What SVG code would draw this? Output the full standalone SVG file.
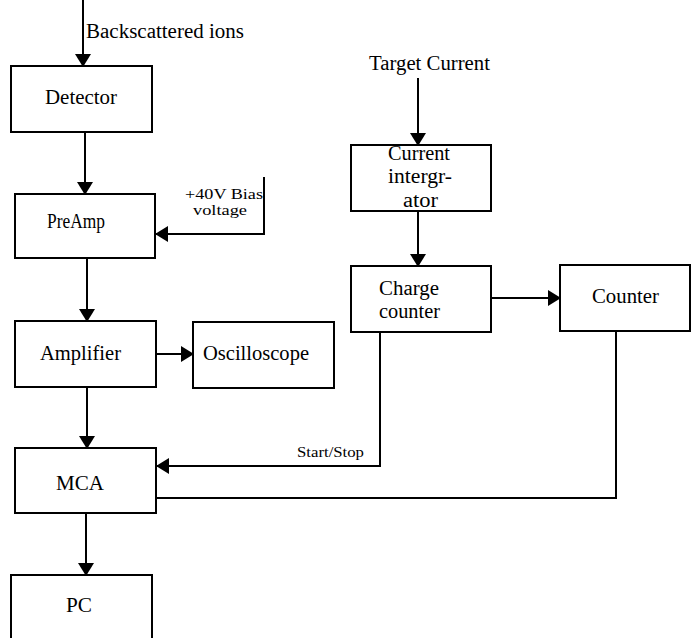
<svg xmlns="http://www.w3.org/2000/svg" width="691" height="638" viewBox="0 0 691 638">
<style>
.box{fill:#fff;stroke:#000;stroke-width:2}
.ln{fill:none;stroke:#000;stroke-width:2}
.t{font-family:"Liberation Serif",serif;font-size:20px;fill:#000}
.sm{font-size:14px}
</style>
<defs>
<marker id="ah" markerWidth="13" markerHeight="16" refX="12" refY="8" orient="auto" markerUnits="userSpaceOnUse">
<path d="M0,0 L13,8 L0,16 Z" fill="#000"/>
</marker>
</defs>
<rect width="691" height="638" fill="#fff"/>
<g id="connectors">
<path class="ln" d="M83,0 V66" marker-end="url(#ah)"/>
<path class="ln" d="M85,132 V194" marker-end="url(#ah)"/>
<path class="ln" d="M264,177 V234 H156" marker-end="url(#ah)"/>
<path class="ln" d="M87,258 V321" marker-end="url(#ah)"/>
<path class="ln" d="M156,354 H193" marker-end="url(#ah)"/>
<path class="ln" d="M87,387 V448" marker-end="url(#ah)"/>
<path class="ln" d="M380,332 V466 H157" marker-end="url(#ah)"/>
<path class="ln" d="M156,498 H616 V331"/>
<path class="ln" d="M86,513 V575" marker-end="url(#ah)"/>
<path class="ln" d="M418,78 V145" marker-end="url(#ah)"/>
<path class="ln" d="M418,211 V266" marker-end="url(#ah)"/>
<path class="ln" d="M491,298 H560" marker-end="url(#ah)"/>
<text class="t" x="86" y="38" textLength="158" lengthAdjust="spacingAndGlyphs">Backscattered ions</text>
<text class="t sm" x="185" y="199" textLength="78" lengthAdjust="spacingAndGlyphs">+40V Bias</text>
<text class="t sm" x="193" y="215" textLength="54" lengthAdjust="spacingAndGlyphs">voltage</text>
<text class="t sm" x="297" y="457" textLength="67" lengthAdjust="spacingAndGlyphs">Start/Stop</text>
<text class="t" x="369" y="70" textLength="121" lengthAdjust="spacingAndGlyphs">Target Current</text>
</g>
<g id="detector"><rect class="box" x="11" y="66" width="141" height="66"/><text class="t" x="45" y="104" textLength="72" lengthAdjust="spacingAndGlyphs">Detector</text></g>
<g id="preamp"><rect class="box" x="15" y="194" width="140" height="64"/><text class="t" x="47" y="228" textLength="58" lengthAdjust="spacingAndGlyphs">PreAmp</text></g>
<g id="amplifier"><rect class="box" x="15" y="321" width="141" height="66"/><text class="t" x="40" y="360" textLength="81" lengthAdjust="spacingAndGlyphs">Amplifier</text></g>
<g id="oscilloscope"><rect class="box" x="193" y="322" width="141" height="66"/><text class="t" x="203" y="360" textLength="106" lengthAdjust="spacingAndGlyphs">Oscilloscope</text></g>
<g id="mca"><rect class="box" x="15" y="448" width="141" height="65"/><text class="t" x="56" y="490" textLength="48" lengthAdjust="spacingAndGlyphs">MCA</text></g>
<g id="pc"><rect class="box" x="11" y="575" width="141" height="70"/><text class="t" x="66" y="612" textLength="26" lengthAdjust="spacingAndGlyphs">PC</text></g>
<g id="integrator"><rect class="box" x="351" y="145" width="140" height="66"/>
<text class="t" x="388" y="160" textLength="62" lengthAdjust="spacingAndGlyphs">Current</text>
<text class="t" x="388" y="183" textLength="64" lengthAdjust="spacingAndGlyphs">intergr-</text>
<text class="t" x="403" y="207" textLength="35" lengthAdjust="spacingAndGlyphs">ator</text></g>
<g id="charge-counter"><rect class="box" x="351" y="266" width="140" height="66"/>
<text class="t" x="379" y="295" textLength="60" lengthAdjust="spacingAndGlyphs">Charge</text>
<text class="t" x="379" y="318" textLength="61" lengthAdjust="spacingAndGlyphs">counter</text></g>
<g id="counter"><rect class="box" x="560" y="265" width="130" height="66"/><text class="t" x="592" y="303" textLength="67" lengthAdjust="spacingAndGlyphs">Counter</text></g>
</svg>
